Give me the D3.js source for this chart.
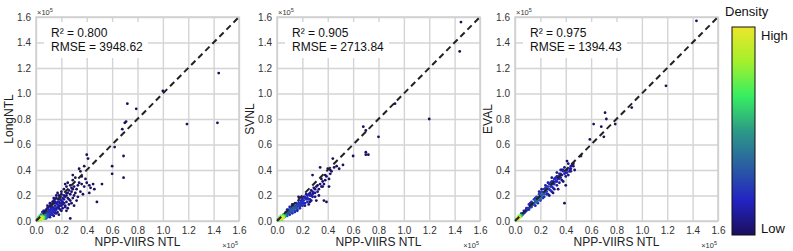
<!DOCTYPE html>
<html>
<head>
<meta charset="utf-8">
<script src="https://cdn.jsdelivr.net/npm/d3@7"></script>
<style>
  body { margin: 0; background: #fff; }
  svg { font-family: "Liberation Sans", Arial, sans-serif; }
</style>
</head>
<body>
<svg id="chart" width="793" height="251"></svg>
<script>
// ---- data (values in x10^3, axes shown in x10^5) ----
var yNames = ["LongNTL", "SVNL", "EVAL"];
var r2Labels = ["0.800", "0.905", "0.975"];
var rmseLabels = ["3948.62", "2713.84", "1394.43"];
var tickVals = [0, 0.2, 0.4, 0.6, 0.8, 1.0, 1.2, 1.4, 1.6];

var longPts = [
  [144,116],[100,102],[72,92],[79,88],[71,78],[70,77],[68,72],[119,76],[143,77],[40,52],[41,49],[62,58],[69,51],
  [60,43],[60,37],[69,34],[52,29],[38,43],[29,36],[35,39],[48,15],[27,2],
  [34,41],[36,35],[39,33],[40,30],[42,28],[45,29],[46,25],[43,26],[42,22],[31,34],[29,32],[25,30],[23,29],[28,26],
  [32,25],[35,23],[37,21],[30,20],[25,18],[27,16],[32,16],[24,22],[20,21],[19,17],[16,18],[14,16],[21,13],[18,10],
  [15,9],[24,8],
  [2,1],[3,1],[3,2],[2,2],[4,2],[4,1],[5,2],[5,3],[1,1],[2,3],[6,3],[6,2],[7,3],[7,4],[4,3],[3,3],[8,4],[8,3],
  [9,4],[9,5],[10,5],[10,4],[5,4],[6,5],[11,6],[12,6],[12,5],[13,7],[14,7],[11,8],[10,7],[9,7],[8,6],[7,6],[6,6],
  [15,8],[16,9],[14,10],[13,11],[12,10],[15,12],[17,11],[18,12],[16,14],[14,14],[12,13],[11,12],[10,11],[9,10],
  [8,9],[7,8],[17,15],[19,14],[20,16],[18,17],[15,17],[13,15],[16,20],[19,19],[21,18],[22,20],[20,23],[17,22],
  [14,18],[11,14],[9,12],[6,8],[5,7],[4,5],[3,4],[13,5],[15,6],[17,7],[19,9],[21,10],[23,11],[20,12],[22,14],
  [24,15],[26,17],[18,5],[14,4],[11,3],[8,2],[3,2],[2,1],[4,2],[3,1],[2,2],[5,2],[4,3],[3,2],[6,3],[2,1],
  [2,1],[3,1],[2,1],[3,2],[4,2],[1,1],[2,2],[3,1],[4,1],[5,2],[3,2],[2,1],[4,2],[6,2],[5,3],[3,1],[2,2],[4,3],
  [6,3],[7,3],[3,2],[4,2],[5,2],[3,1],
  [10,9],[12,7],[13,8],[14,9],[16,10],[17,13],[18,15],[19,12],[20,14],[21,15],[22,17],[23,19],[24,20],[25,22],
  [26,24],[27,21],[28,23],[29,25],[30,27],[31,22],[33,28],[34,30],[26,13],[28,14],[29,18],[30,12],[33,19],[36,29],
  [38,27],[22,25],[24,27],[27,28],[18,20],[15,15],[12,9],[11,5],[9,3],[7,2],[16,6],[20,8],[23,12],[25,10]
];
var svnlPts = [
  [145,156],[144,133],[120,80],[93,92],[80,66],[68,74],[70,71],[60,51],[70,52],[72,52],[70,54],[52,44],[44,49],
  [40,41],[39,15],[37,16],[49,41],[45,42],[42,37],[34,42],[28,36],[35,33],[38,32],[41,27],[36,27],[32,23],[28,21],
  [23,17],[27,16],[33,20],[31,16],[20,13],[25,13],[17,19],[30,25],[26,22],[22,19],[19,15],
  [1,1],[2,1],[2,2],[3,2],[3,3],[4,3],[4,2],[5,4],[5,3],[6,4],[6,5],[7,5],[7,4],[8,6],[8,5],[9,6],[9,7],[10,7],
  [10,8],[11,8],[11,7],[12,9],[12,8],[13,10],[13,9],[14,10],[14,11],[15,12],[15,10],[16,11],[16,13],[17,12],
  [18,14],[18,12],[19,13],[20,15],[20,17],[21,16],[22,14],[22,18],[24,18],[24,15],[26,20],[26,17],[28,19],[15,14],
  [13,12],[11,10],[9,9],[7,7],[5,5],[3,1],[4,1],[6,3],[8,4],[10,5],[12,6],[14,8],[16,9],[18,10],[20,12],[2,3],
  [3,4],[10,11],[12,13],[8,9],[25,21],[27,24],[29,22],[32,28],[2,1],[3,2],[2,2],[4,3],[3,2],[5,3],
  [2,1],[2,2],[3,2],[1,1],[3,2],[4,3],[2,1],[3,3],[4,2],[5,3],[2,2],[3,2],[4,3],[5,4],[6,4],[3,2],
  [11,9],[13,11],[15,11],[17,14],[19,16],[21,14],[23,18],[24,20],[25,17],[27,20],[28,23],[29,26],[30,22],[31,27],
  [33,25],[34,29],[35,27],[36,31],[37,29],[39,35],[41,33],[42,40],[30,19],[26,15],[22,12],[18,11],[16,8],[14,7],
  [12,7],[23,21],[20,18],[17,16],[21,19],[43,39],[47,43],[38,36]
];
var evalPts = [
  [143,157],[119,106],[92,89],[71,85],[72,80],[79,76],[62,76],[68,74],[70,66],[59,64],[52,51],[47,40],[41,47],
  [39,14],[40,28],[44,43],[42,45],[46,45],
  [45,44],[43,41],[41,40],[40,38],[38,39],[37,36],[36,34],[35,37],[34,33],[33,35],[32,31],[31,33],[30,29],[29,31],
  [28,27],[27,29],[26,25],[25,27],[24,23],[23,25],[22,21],[21,23],[20,19],[19,21],[18,17],[17,19],[16,15],[15,17],
  [14,13],[13,15],[12,11],[11,13],[10,9],[9,10],[8,7],[7,8],[6,5],[5,6],[4,3],[3,4],[2,2],[1,1],[2,1],[3,2],[4,4],
  [5,4],[6,6],[7,6],[8,8],[9,8],[10,10],[11,10],[12,12],[13,12],[14,14],[15,14],[16,16],[17,16],[18,18],[19,18],
  [20,20],[21,20],[22,22],[23,22],[24,25],[26,27],[28,29],[30,31],[32,33],[34,35],[36,37],[38,40],[37,32],[35,30],
  [33,28],[30,26],[28,24],[25,21],[22,18],[20,16],[18,14],[16,12],[34,25],[38,31],[30,22],[42,36],[44,39],[36,40],
  [33,38],[29,34],[26,30],[24,28],[21,25],[19,23],[40,35],[27,20],[2,2],[3,2],[2,1],[3,3],[1,1],
  [2,2],[1,1],[3,2],[2,1],[3,3],[2,2],[4,3],[3,2],[2,2],[4,4],[5,4],[3,3],[1,1],[2,2],
  [39,37],[41,38],[43,39],[35,33],[33,31],[31,29],[29,27],[27,25],[25,23],[23,21],[21,19],[19,17],[17,15],[15,13],
  [13,11],[11,9],[44,41],[46,43],[39,42],[37,40],[32,34],[28,30],[24,26],[20,22],[16,18],[12,14],[31,25],[29,23],
  [26,21],[23,19],[20,17],[18,16]
];
var allPts = [longPts, svnlPts, evalPts];

var colorStops = ["#1b0f5c", "#2323c2", "#2a5fa2", "#2c9a86", "#36ee62", "#a4f02c", "#ece62a"];

// ---- layout ----
var svg = d3.select("#chart");
var lefts = [36, 277, 515];
var top0 = 17, w = 203, h = 204;
var gridColor = "#d4d4d4";

var color = d3.scaleLinear()
  .domain(d3.range(colorStops.length).map(function(i) { return i / (colorStops.length - 1); }))
  .range(colorStops);

// gaussian kernel density per point, scaled to 0..1
function density(pts) {
  var s2 = 2 * 2.2 * 2.2;
  var dens = pts.map(function(p) {
    return d3.sum(pts, function(q) {
      var dx = q[0] - p[0], dy = q[1] - p[1];
      return Math.exp(-(dx * dx + dy * dy) / s2);
    });
  });
  var mx = d3.max(dens), mn = d3.min(dens);
  return pts.map(function(p, i) { return { x: p[0] / 100, y: p[1] / 100, d: (dens[i] - mn) / (mx - mn) }; });
}

lefts.forEach(function(left, k) {
  var x = d3.scaleLinear().domain([0, 1.6]).range([0, w]);
  var y = d3.scaleLinear().domain([0, 1.6]).range([h, 0]);
  var g = svg.append("g").attr("transform", "translate(" + left + "," + top0 + ")");

  // grid + ticks
  var gx = g.append("g").attr("transform", "translate(0," + h + ")")
    .call(d3.axisBottom(x).tickValues(tickVals).tickSize(-h).tickPadding(6).tickFormat(d3.format(".1f")));
  var gy = g.append("g")
    .call(d3.axisLeft(y).tickValues(tickVals).tickSize(-w).tickPadding(5).tickFormat(d3.format(".1f")));
  [gx, gy].forEach(function(a) {
    a.select(".domain").remove();
    a.selectAll("line").attr("stroke", gridColor).attr("stroke-width", 1.4);
    a.selectAll("text").attr("fill", "#333").style("font-size", "10px");
  });

  g.append("rect").attr("width", w).attr("height", h)
    .attr("fill", "none").attr("stroke", "#cfcfcf").attr("stroke-width", 1.5);

  // stats box
  var stats = g.append("g").attr("transform", "translate(15,20)");
  var bg = stats.append("rect").attr("fill", "#fff");
  var t = stats.append("text").style("font-size", "12px").attr("fill", "#111");
  t.append("tspan").attr("x", 0).attr("y", 0).text("R² = " + r2Labels[k]);
  t.append("tspan").attr("x", 0).attr("y", 14).text("RMSE = " + rmseLabels[k]);
  var bb = t.node().getBBox();
  bg.attr("x", bb.x - 7).attr("y", bb.y - 4).attr("width", bb.width + 12).attr("height", bb.height + 8);

  // points
  var data = density(allPts[k]).sort(function(a, b) { return a.d - b.d; });
  g.append("g").selectAll("circle").data(data).enter().append("circle")
    .attr("cx", function(d) { return x(d.x); })
    .attr("cy", function(d) { return y(d.y); })
    .attr("r", 1.4)
    .attr("fill", function(d) { return color(Math.pow(d.d, 1.6)); });

  // 1:1 line
  g.append("line")
    .attr("x1", x(0)).attr("y1", y(0)).attr("x2", x(1.6)).attr("y2", y(1.6))
    .attr("stroke", "#222").attr("stroke-width", 2).attr("stroke-dasharray", "6,4");

  // axis titles
  g.append("text").attr("x", w / 2).attr("y", h + 25).attr("text-anchor", "middle")
    .style("font-size", "12px").attr("fill", "#222").text("NPP-VIIRS NTL");
  g.append("text").attr("transform", "translate(-23," + (h / 2) + ") rotate(-90)")
    .attr("text-anchor", "middle").style("font-size", "12px").attr("fill", "#222").text(yNames[k]);

  // exponent labels
  var e1 = g.append("text").attr("x", 1).attr("y", -2).style("font-size", "7.5px").attr("fill", "#333");
  e1.append("tspan").text("×10");
  e1.append("tspan").attr("dy", -3).style("font-size", "5.5px").text("5");
  var e2 = g.append("text").attr("x", w - 1).attr("y", h + 27).attr("text-anchor", "end").style("font-size", "7.5px").attr("fill", "#333");
  e2.append("tspan").text("×10");
  e2.append("tspan").attr("dy", -3).style("font-size", "5.5px").text("5");
});

// ---- colorbar ----
var cbX = 732, cbY = 27, cbW = 23, cbH = 208;
var grad = svg.append("defs").append("linearGradient").attr("id", "cbar")
  .attr("x1", 0).attr("y1", 1).attr("x2", 0).attr("y2", 0);
colorStops.forEach(function(c, i) {
  grad.append("stop").attr("offset", i / (colorStops.length - 1)).attr("stop-color", c);
});
svg.append("rect").attr("x", cbX).attr("y", cbY).attr("width", cbW).attr("height", cbH)
  .attr("fill", "url(#cbar)").attr("stroke", "#111").attr("stroke-width", 1);
svg.append("text").attr("x", 725).attr("y", 16).style("font-size", "13px").attr("fill", "#111").text("Density");
svg.append("text").attr("x", 761).attr("y", 40).style("font-size", "13px").attr("fill", "#111").text("High");
svg.append("text").attr("x", 761).attr("y", 233).style("font-size", "13px").attr("fill", "#111").text("Low");
</script>
</body>
</html>
